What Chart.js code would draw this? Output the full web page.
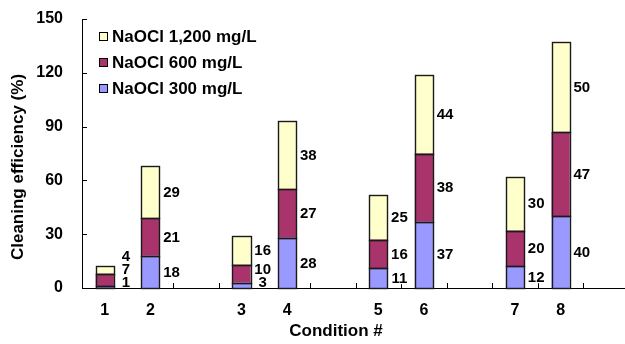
<!DOCTYPE html>
<html><head><meta charset="utf-8">
<script src="https://cdn.jsdelivr.net/npm/chart.js@4"></script>
<style>html,body{margin:0;padding:0;overflow:hidden;background:#fff}canvas{display:block}</style>
</head><body>
<canvas id="c" width="630" height="344"></canvas>
<script>
// ---- data ----
const categories = ['1','2','','3','4','','5','6','','7','8',''];
const naocl300  = [1, 18, null, 3, 28, null, 11, 37, null, 12, 40, null];
const naocl600  = [7, 21, null, 10, 27, null, 16, 38, null, 20, 47, null];
const naocl1200 = [4, 29, null, 16, 38, null, 25, 44, null, 30, 50, null];
const seriesNames = ['NaOCl 300 mg/L', 'NaOCl 600 mg/L', 'NaOCl 1,200 mg/L'];
const yTicks = [0, 30, 60, 90, 120, 150];
const xTitle = 'Condition #';
const yTitle = 'Cleaning efficiency (%)';

const FONT = "'Liberation Sans', Arial, sans-serif";
Chart.defaults.font.family = FONT;
Chart.defaults.color = '#000';

const colors = ['#9999FF', '#A8346B', '#FFFFCC'];
const seriesData = [naocl300, naocl600, naocl1200];

const tickMarks = {
  id: 'tickMarks',
  beforeDatasetsDraw(chart) {
    const {ctx, scales: {x, y}, chartArea: ca} = chart;
    ctx.save();
    ctx.strokeStyle = '#000';
    ctx.lineWidth = 1;
    ctx.beginPath();
    yTicks.forEach(v => {
      if (v === 0) return;
      const py = Math.round(y.getPixelForValue(v)) + 0.5;
      ctx.moveTo(ca.left, py); ctx.lineTo(ca.left + 5, py);
    });
    for (let i = 1; i < categories.length; i++) {
      const px = Math.round((x.getPixelForValue(i - 1) + x.getPixelForValue(i)) / 2) + 0.5;
      ctx.moveTo(px, ca.bottom); ctx.lineTo(px, ca.bottom - 5);
    }
    ctx.stroke();
    ctx.restore();
  }
};

// crisp outlines round every bar segment
const barOutlines = {
  id: 'barOutlines',
  afterDatasetsDraw(chart) {
    const {ctx} = chart;
    ctx.save();
    ctx.strokeStyle = '#1a1a1a';
    ctx.lineWidth = 1.4;
    chart.data.datasets.forEach((ds, d) => {
      chart.getDatasetMeta(d).data.forEach((el, i) => {
        const v = ds.data[i];
        if (v === null || v === undefined) return;
        const x0 = Math.round(el.x - el.width / 2) + 0.5;
        const x1 = Math.round(el.x + el.width / 2) + 0.5;
        const y0 = Math.round(el.y) + 0.5;
        const y1 = Math.round(el.base) + 0.5;
        ctx.strokeRect(x0, y0, x1 - x0, y1 - y0);
      });
    });
    ctx.restore();
  }
};

const valueLabels = {
  id: 'valueLabels',
  afterDatasetsDraw(chart) {
    const {ctx, chartArea: ca} = chart;
    ctx.save();
    ctx.font = 'bold 15px ' + FONT;
    ctx.textAlign = 'center';
    ctx.textBaseline = 'middle';
    for (let i = 0; i < categories.length; i++) {
      let prev = null;
      chart.data.datasets.forEach((ds, d) => {
        const v = ds.data[i];
        if (v === null || v === undefined) return;
        const el = chart.getDatasetMeta(d).data[i];
        let cy = (el.y + el.base) / 2;
        if (prev === null) cy = Math.min(cy, ca.bottom - 6);
        else cy = Math.min(cy, prev - 13);
        prev = cy;
        const cx = el.x + el.width / 2 + 12;
        const txt = String(v);
        const w = ctx.measureText(txt).width;
        ctx.fillStyle = '#fff';
        ctx.fillRect(cx - w / 2 - 1, cy - 6, w + 2, 12);
        ctx.fillStyle = '#000';
        ctx.fillText(txt, cx, cy + 0.5);
      });
    }
    ctx.restore();
  }
};

const legendAndTitles = {
  id: 'legendAndTitles',
  afterDraw(chart) {
    const {ctx, chartArea: ca} = chart;
    ctx.save();
    // legend (reverse order, inside the plot)
    ctx.font = 'bold 17px ' + FONT;
    ctx.textAlign = 'left';
    ctx.textBaseline = 'middle';
    const n = chart.data.datasets.length;
    for (let k = 0; k < n; k++) {
      const ds = chart.data.datasets[n - 1 - k];
      const cy = ca.top + 17 + k * 26.3;
      const bx = ca.left + 17;
      ctx.fillStyle = ds.backgroundColor;
      ctx.fillRect(bx, Math.round(cy - 4.5), 9, 9);
      ctx.strokeStyle = '#000';
      ctx.lineWidth = 1;
      ctx.strokeRect(bx + 0.5, Math.round(cy - 4.5) + 0.5, 8, 8);
      ctx.fillStyle = '#000';
      ctx.fillText(ds.label, bx + 13, cy + 1);
    }
    // axis titles
    ctx.textAlign = 'center';
    ctx.fillText(xTitle, 336, 331);
    ctx.translate(18, 167);
    ctx.rotate(-Math.PI / 2);
    ctx.fillText(yTitle, 0, 0);
    ctx.restore();
  }
};

new Chart(document.getElementById('c'), {
  type: 'bar',
  data: {
    labels: categories,
    datasets: seriesData.map((d, k) => ({
      label: seriesNames[k],
      data: d,
      backgroundColor: colors[k],
      borderWidth: 0,
      inflateAmount: 0,
      categoryPercentage: 1,
      barPercentage: 0.4
    }))
  },
  options: {
    responsive: false,
    animation: false,
    layout: {padding: {top: 19, left: 0, right: 1, bottom: 0}},
    plugins: {legend: {display: false}, tooltip: {enabled: false}},
    scales: {
      x: {
        stacked: true,
        grid: {display: false, drawTicks: false},
        border: {color: '#000', width: 1},
        ticks: {font: {size: 16, weight: 'bold'}, padding: 13, autoSkip: false, maxRotation: 0},
        afterFit(s) { s.height = 56; }
      },
      y: {
        stacked: true,
        min: 0, max: 150,
        grid: {display: false, drawTicks: true, tickLength: 19},
        border: {color: '#000', width: 1},
        ticks: {stepSize: 30, font: {size: 16, weight: 'bold'}, padding: 0},
        afterFit(s) { s.width = 82; }
      }
    }
  },
  plugins: [tickMarks, barOutlines, valueLabels, legendAndTitles]
});
</script>
</body></html>
